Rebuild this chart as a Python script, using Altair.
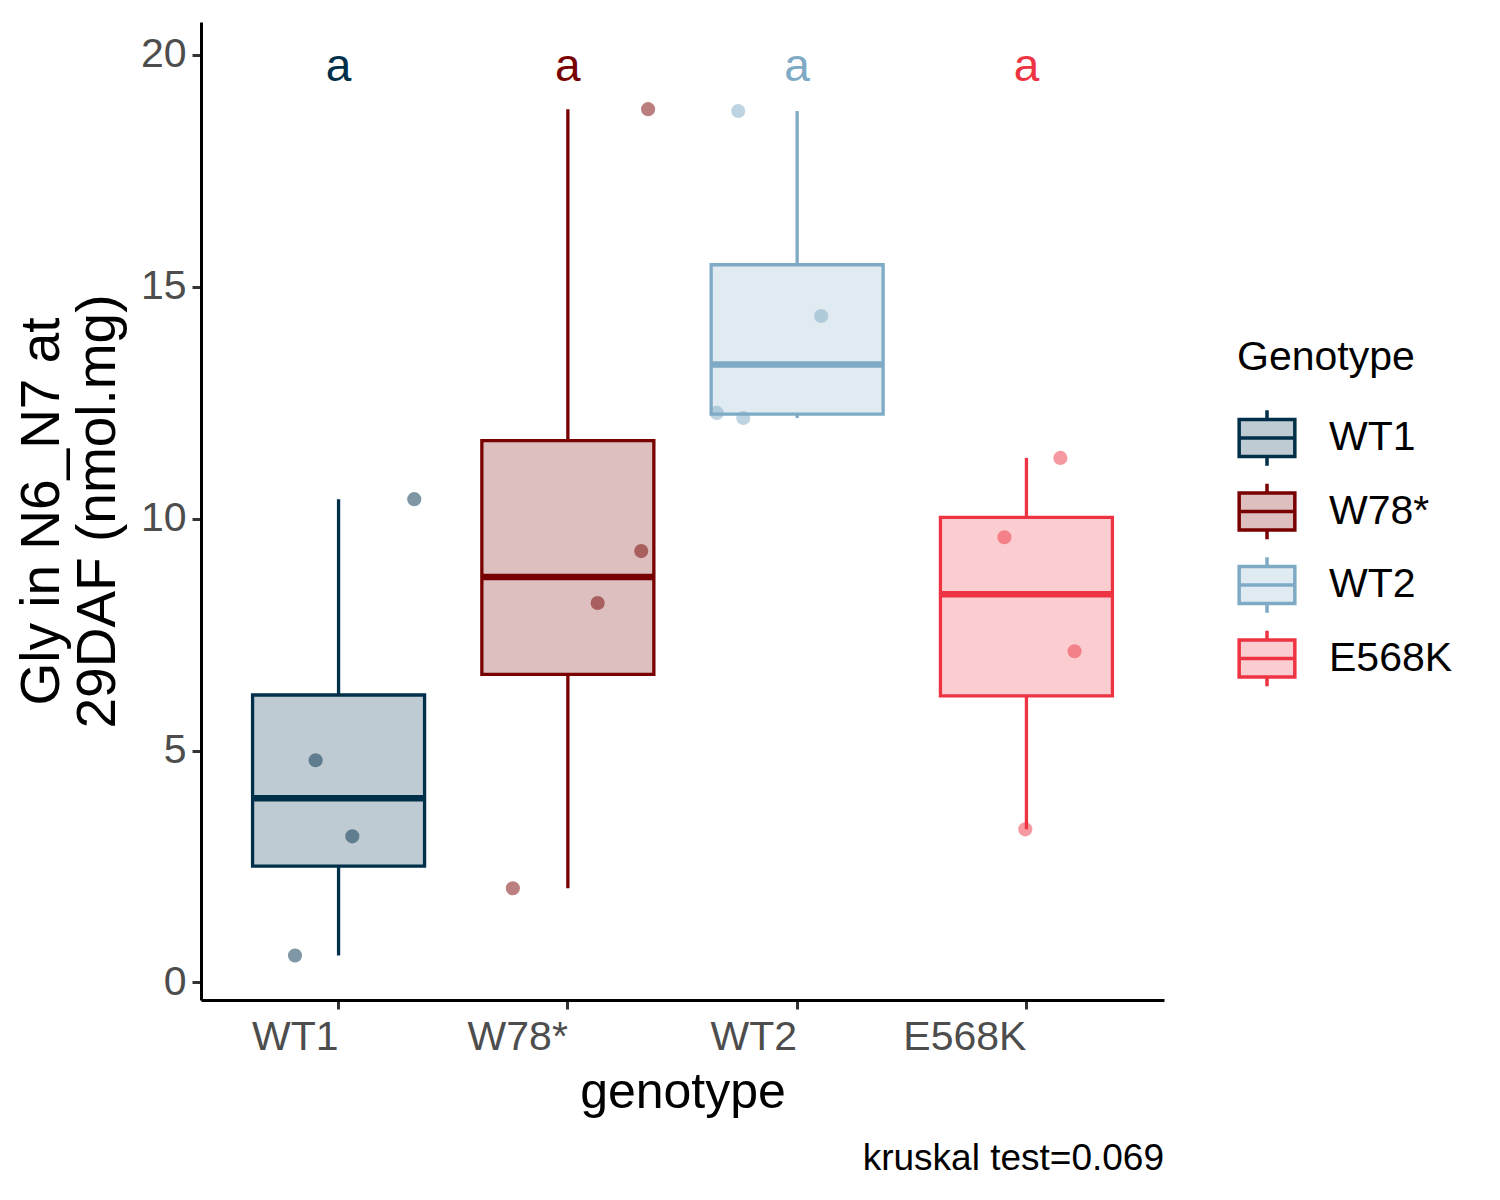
import altair as alt
import pandas as pd

# genotypes, colours and readings taken from the figure
genotypes = ["WT1", "W78*", "WT2", "E568K"]
colors = ["#003049", "#780000", "#7FAAC6", "#EE3342"]

wt1 = [0.58, 3.15, 4.79, 10.42]
w78 = [2.03, 8.18, 9.30, 18.83]
wt2 = [12.17, 12.28, 14.37, 18.79]
e568k = [3.30, 7.14, 9.60, 11.31]

# horizontal jitter of each point (in category widths)
jit_wt1 = [-0.19, 0.06, -0.10, 0.33]
jit_w78 = [-0.24, 0.13, 0.32, 0.35]
jit_wt2 = [-0.235, -0.35, 0.105, -0.257]
jit_e568k = [-0.005, 0.21, -0.096, 0.148]

letters = ["a", "a", "a", "a"]
letter_y = 19.75


def tint(hex_color, alpha=0.25):
    # box fill: the line colour at 25% over white
    rgb = [int(hex_color[i:i + 2], 16) for i in (1, 3, 5)]
    return "#" + "".join(f"{round(alpha * c + (1 - alpha) * 255):02X}" for c in rgb)


tints = [tint(c) for c in colors]
col_of = dict(zip(genotypes, colors))

rows = []
for g, vals, jits in zip(genotypes, [wt1, w78, wt2, e568k],
                         [jit_wt1, jit_w78, jit_wt2, jit_e568k]):
    for v, j in zip(vals, jits):
        rows.append({"genotype": g, "value": v, "jit": j, "col": col_of[g]})
df = pd.DataFrame(rows)
lab = pd.DataFrame({"genotype": genotypes, "letter": letters,
                    "y": [letter_y] * 4, "col": colors})

FONT = "Liberation Sans"
BOX_W = 172
LW = 3.3

x = alt.X("genotype:N", sort=genotypes,
          scale=alt.Scale(type="band", paddingInner=0, paddingOuter=0.1),
          axis=alt.Axis(title="genotype", labelAlign="right", labelAngle=0,
                        labelBaseline="top", labelPadding=8, titlePadding=10,
                        titleFontSize=50))
yscale = alt.Scale(domain=[-0.38, 20.71], nice=False, zero=False)
leg = alt.Legend(
    title="Genotype", orient="none", legendX=1036, legendY=316,
    symbolType="M-1,-0.667H1V0.667H-1Z M-1,0H1 M0,-0.667V-1 M0,0.667V1",
    symbolSize=3100, symbolStrokeWidth=3.5, rowPadding=3.5,
    labelOffset=32, titlePadding=29)

line_col = alt.Stroke("genotype:N", sort=genotypes,
                      scale=alt.Scale(domain=genotypes, range=colors), legend=leg)
fill_col = alt.Fill("genotype:N", sort=genotypes,
                    scale=alt.Scale(domain=genotypes, range=tints), legend=leg)
raw_col = alt.Color("col:N", scale=None)

base = alt.Chart(df)
agg = base.transform_aggregate(
    lo="min(value)", q1="q1(value)", med="median(value)",
    q3="q3(value)", hi="max(value)", col="min(col)", groupby=["genotype"]
)

y_axis = alt.Axis(title=["Gly in N6_N7 at", "29DAF (nmol.mg)"],
                  values=[0, 5, 10, 15, 20], titlePadding=14,
                  titleFontSize=55, titleLineHeight=56, labelPadding=6)

box = agg.mark_bar(size=BOX_W, strokeWidth=LW).encode(
    x=x, y=alt.Y("q1:Q", scale=yscale, axis=y_axis), y2="q3:Q",
    fill=fill_col, stroke=line_col)
lower = agg.mark_rule(strokeWidth=LW).encode(
    x=x, y=alt.Y("lo:Q"), y2="q1:Q", stroke=line_col)
upper = agg.mark_rule(strokeWidth=LW).encode(
    x=x, y=alt.Y("q3:Q"), y2="hi:Q", stroke=line_col)
median = agg.mark_tick(size=BOX_W, thickness=6.5, opacity=1).encode(
    x=x, y=alt.Y("med:Q"), color=raw_col)
points = base.mark_circle(size=200, opacity=0.5).encode(
    x=x, xOffset=alt.XOffset("jit:Q", scale=alt.Scale(domain=[-0.5, 0.5])),
    y=alt.Y("value:Q"), color=raw_col)
text = alt.Chart(lab).mark_text(fontSize=46, baseline="middle", font=FONT).encode(
    x=x, y=alt.Y("y:Q"), text="letter:N", color=raw_col)

chart = alt.layer(box, lower, upper, median, points, text).properties(
    width=963, height=978,
    padding={"left": 6, "top": 14, "right": 5, "bottom": 5},
    title=alt.TitleParams("kruskal test=0.069", orient="bottom", anchor="end",
                          frame="group", fontSize=37, fontWeight="normal",
                          font=FONT, color="black", offset=24),
).configure_view(stroke=None).configure_axis(
    grid=False, domainColor="black", domainWidth=3, tickColor="#333333",
    tickWidth=3, tickSize=9, labelColor="#4D4D4D", labelFont=FONT,
    labelFontSize=41, titleFont=FONT,
    titleFontWeight="normal", titleColor="black",
).configure_legend(
    titleFont=FONT, titleFontSize=41, titleFontWeight="normal", titleColor="black",
    labelFont=FONT, labelFontSize=41, labelColor="black",
)

chart.save("out.html", embed_options={"renderer": "svg", "actions": False})
